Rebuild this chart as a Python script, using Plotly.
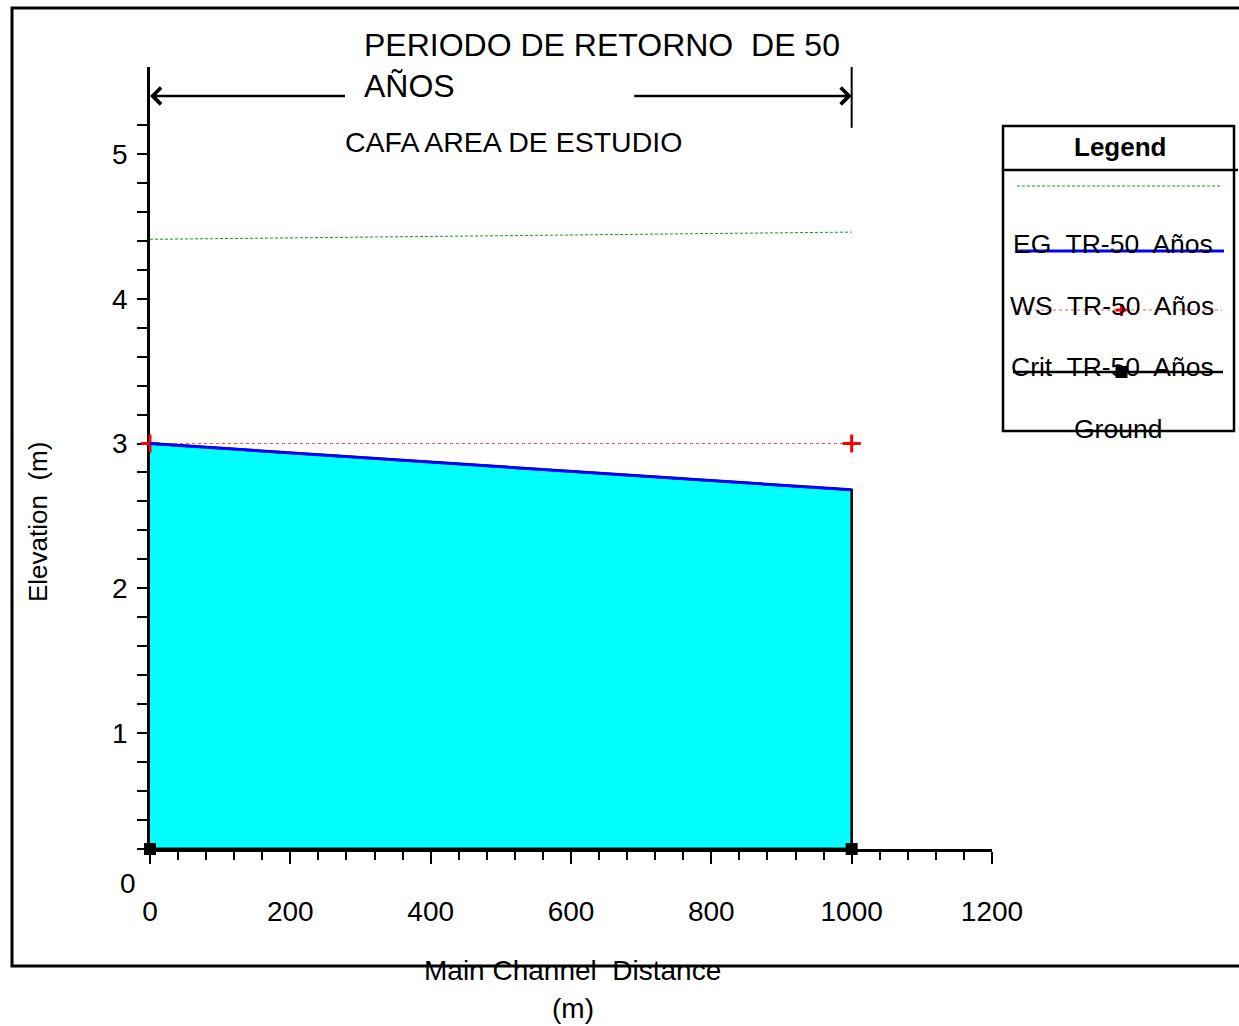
import plotly.graph_objects as go

# ---------------- data ----------------
distance = [0, 1000]          # main channel distance (m)
eg = [4.41, 4.46]             # EG TR-50 Años
ws = [3.00, 2.68]             # WS TR-50 Años
crit = [3.00, 3.00]           # Crit TR-50 Años
ground = [0.20, 0.20]         # Ground

series_names = ["EG  TR-50  Años", "WS  TR-50  Años", "Crit  TR-50  Años", "Ground"]
title_lines = ["PERIODO DE RETORNO  DE 50", "AÑOS"]
subtitle = "CAFA AREA DE ESTUDIO"
x_title = ["Main Channel  Distance", "(m)"]
y_title = "Elevation  (m)"
x_tick_step = 200
x_minor_step = 40
y_ticks = [1, 2, 3, 4, 5]
y_minor_ticks = [0.2, 0.4, 0.6, 0.8, 1.2, 1.4, 1.6, 1.8, 2.2, 2.4, 2.6, 2.8,
                 3.2, 3.4, 3.6, 3.8, 4.2, 4.4, 4.6, 4.8, 5.2]
x_range = [0, 1200]
y_range = [0.2, 5.6]

# ---------------- layout helpers (pixels -> paper) ----------------
W, H = 1239, 1026
L, R, T, B = 150, 992, 67, 849
FONT = "Liberation Sans, Arial, sans-serif"
CRIT_COLOR = "rgb(255,80,80)"
EG_COLOR = "rgb(0,170,0)"


def fx(p):
    return (p - L) / (R - L)


def fy(p):
    return (B - p) / (B - T)


fig = go.Figure()

# filled water area (WS down to ground)
fig.add_trace(go.Scatter(
    x=distance + distance[::-1], y=ws + ground[::-1],
    fill="toself", fillcolor="#00ffff", mode="lines",
    line=dict(color="black", width=2.5), showlegend=False, hoverinfo="skip"))

# EG
fig.add_trace(go.Scatter(
    x=distance, y=eg, mode="lines", name=series_names[0],
    line=dict(color=EG_COLOR, width=1, dash="3px,2px"), showlegend=False))

# Crit
fig.add_trace(go.Scatter(
    x=distance, y=crit, mode="lines+markers", name=series_names[2],
    line=dict(color=CRIT_COLOR, width=1, dash="3px,3px"),
    marker=dict(symbol="cross-thin", size=13, color="red",
                line=dict(color="red", width=3)),
    cliponaxis=False, showlegend=False))

# WS
fig.add_trace(go.Scatter(
    x=distance, y=ws, mode="lines", name=series_names[1],
    line=dict(color="blue", width=3), showlegend=False))

# Ground
fig.add_trace(go.Scatter(
    x=distance, y=ground, mode="lines+markers", name=series_names[3],
    line=dict(color="black", width=2.5),
    marker=dict(symbol="square", size=12, color="black"),
    cliponaxis=False, showlegend=False))

fig.update_xaxes(
    range=x_range, showline=True, linecolor="black", linewidth=2.5,
    showgrid=False, zeroline=False, layer="below traces",
    tickmode="linear", tick0=0, dtick=x_tick_step,
    ticks="outside", ticklen=12, tickwidth=2, tickcolor="black",
    minor=dict(tickmode="linear", tick0=0, dtick=x_minor_step, ticks="outside",
               ticklen=8, tickwidth=2, tickcolor="black", showgrid=False),
    tickfont=dict(family=FONT, size=28, color="black"),
    ticklabelstandoff=24)

fig.update_yaxes(
    range=y_range, showline=True, linecolor="black", linewidth=2.5,
    showgrid=False, zeroline=False, layer="below traces",
    tickmode="array", tickvals=y_ticks, ticktext=[str(v) for v in y_ticks],
    ticks="outside", ticklen=10, tickwidth=2, tickcolor="black",
    minor=dict(tickmode="array", tickvals=y_minor_ticks, ticks="outside",
               ticklen=10, tickwidth=2, tickcolor="black", showgrid=False),
    tickfont=dict(family=FONT, size=28, color="black"),
    ticklabelstandoff=4)

shapes = []
# outer border
shapes.append(dict(type="rect", xref="paper", yref="paper",
                   x0=fx(12), x1=fx(1260), y0=fy(966), y1=fy(8),
                   line=dict(color="black", width=3), layer="below"))
# right bracket line at end of reach
shapes.append(dict(type="line", xref="x", yref="y",
                   x0=distance[-1], x1=distance[-1], y0=5.18, y1=y_range[1],
                   line=dict(color="black", width=2)))
# legend box
shapes.append(dict(type="rect", xref="paper", yref="paper",
                   x0=fx(1003), x1=fx(1234), y0=fy(431), y1=fy(126),
                   line=dict(color="black", width=2.5)))
shapes.append(dict(type="line", xref="paper", yref="paper",
                   x0=fx(1003), x1=fx(1238), y0=fy(170), y1=fy(170),
                   line=dict(color="black", width=2.5)))
# legend samples
shapes.append(dict(type="line", xref="paper", yref="paper",
                   x0=fx(1017), x1=fx(1222), y0=fy(186), y1=fy(186),
                   line=dict(color=EG_COLOR, width=1, dash="3px,2px")))
shapes.append(dict(type="line", xref="paper", yref="paper",
                   x0=fx(1017), x1=fx(1224), y0=fy(251), y1=fy(251),
                   line=dict(color="blue", width=3)))
shapes.append(dict(type="line", xref="paper", yref="paper",
                   x0=fx(1017), x1=fx(1222), y0=fy(310), y1=fy(310),
                   line=dict(color=CRIT_COLOR, width=1, dash="3px,3px")))
shapes.append(dict(type="line", xref="paper", yref="paper",
                   x0=fx(1115.5), x1=fx(1127.5), y0=fy(310), y1=fy(310),
                   line=dict(color="red", width=3)))
shapes.append(dict(type="line", xref="paper", yref="paper",
                   x0=fx(1121.5), x1=fx(1121.5), y0=fy(304), y1=fy(316),
                   line=dict(color="red", width=3)))
shapes.append(dict(type="line", xref="paper", yref="paper",
                   x0=fx(1013), x1=fx(1223), y0=fy(372), y1=fy(372),
                   line=dict(color="black", width=2.5)))
shapes.append(dict(type="rect", xref="paper", yref="paper",
                   x0=fx(1115.5), x1=fx(1127.5), y0=fy(378), y1=fy(366),
                   fillcolor="black", line=dict(color="black", width=0)))

annotations = []
# title bracket arrows
annotations.append(dict(x=distance[0], y=5.40, ax=280, ay=5.40, xref="x", yref="y",
                        axref="x", ayref="y", text="", showarrow=True,
                        arrowhead=4, arrowsize=1.3, arrowwidth=2.5, arrowcolor="black"))
annotations.append(dict(x=distance[-1], y=5.40, ax=688, ay=5.40, xref="x", yref="y",
                        axref="x", ayref="y", text="", showarrow=True,
                        arrowhead=4, arrowsize=1.3, arrowwidth=2.5, arrowcolor="black"))
# titles
annotations.append(dict(x=fx(362), y=fy(45), xref="paper", yref="paper",
                        text=title_lines[0], showarrow=False, xanchor="left",
                        yanchor="middle", font=dict(family=FONT, size=32, color="black")))
annotations.append(dict(x=fx(362), y=fy(86), xref="paper", yref="paper",
                        text=title_lines[1], showarrow=False, xanchor="left",
                        yanchor="middle", font=dict(family=FONT, size=32, color="black")))
annotations.append(dict(x=fx(343), y=fy(142), xref="paper", yref="paper",
                        text=subtitle, showarrow=False, xanchor="left",
                        yanchor="middle", font=dict(family=FONT, size=28.5, color="black")))
# axis titles
annotations.append(dict(x=fx(38), y=fy(522), xref="paper", yref="paper",
                        text=y_title, textangle=-90, showarrow=False,
                        xanchor="center", yanchor="middle",
                        font=dict(family=FONT, size=26, color="black")))
annotations.append(dict(x=fx(572), y=fy(971), xref="paper", yref="paper",
                        text=x_title[0], showarrow=False, xanchor="center",
                        yanchor="middle", font=dict(family=FONT, size=28, color="black")))
annotations.append(dict(x=fx(573), y=fy(1008), xref="paper", yref="paper",
                        text=x_title[1], showarrow=False, xanchor="center",
                        yanchor="middle", font=dict(family=FONT, size=28, color="black")))
# y "0" label (below the axis range)
annotations.append(dict(x=fx(138), y=fy(883), xref="paper", yref="paper",
                        text="0", showarrow=False, xanchor="right",
                        yanchor="middle", font=dict(family=FONT, size=28, color="black")))
# legend texts
annotations.append(dict(x=fx(1120), y=fy(147), xref="paper", yref="paper",
                        text="<b>Legend</b>", showarrow=False, xanchor="center",
                        yanchor="middle", font=dict(family=FONT, size=26, color="black")))
legend_rows = [(1113, 244), (1112, 306), (1112, 367), (1118, 429)]
for name, (cx, cy) in zip(series_names, legend_rows):
    annotations.append(dict(x=fx(cx), y=fy(cy), xref="paper", yref="paper",
                            text=name, showarrow=False, xanchor="center",
                            yanchor="middle", font=dict(family=FONT, size=26.5, color="black")))

fig.update_layout(
    width=W, height=H, autosize=False,
    margin=dict(l=L, r=W - R, t=T, b=H - B, pad=0),
    paper_bgcolor="white", plot_bgcolor="white",
    font=dict(family=FONT, color="black"),
    shapes=shapes, annotations=annotations, showlegend=False)

fig.write_html("out.html")
